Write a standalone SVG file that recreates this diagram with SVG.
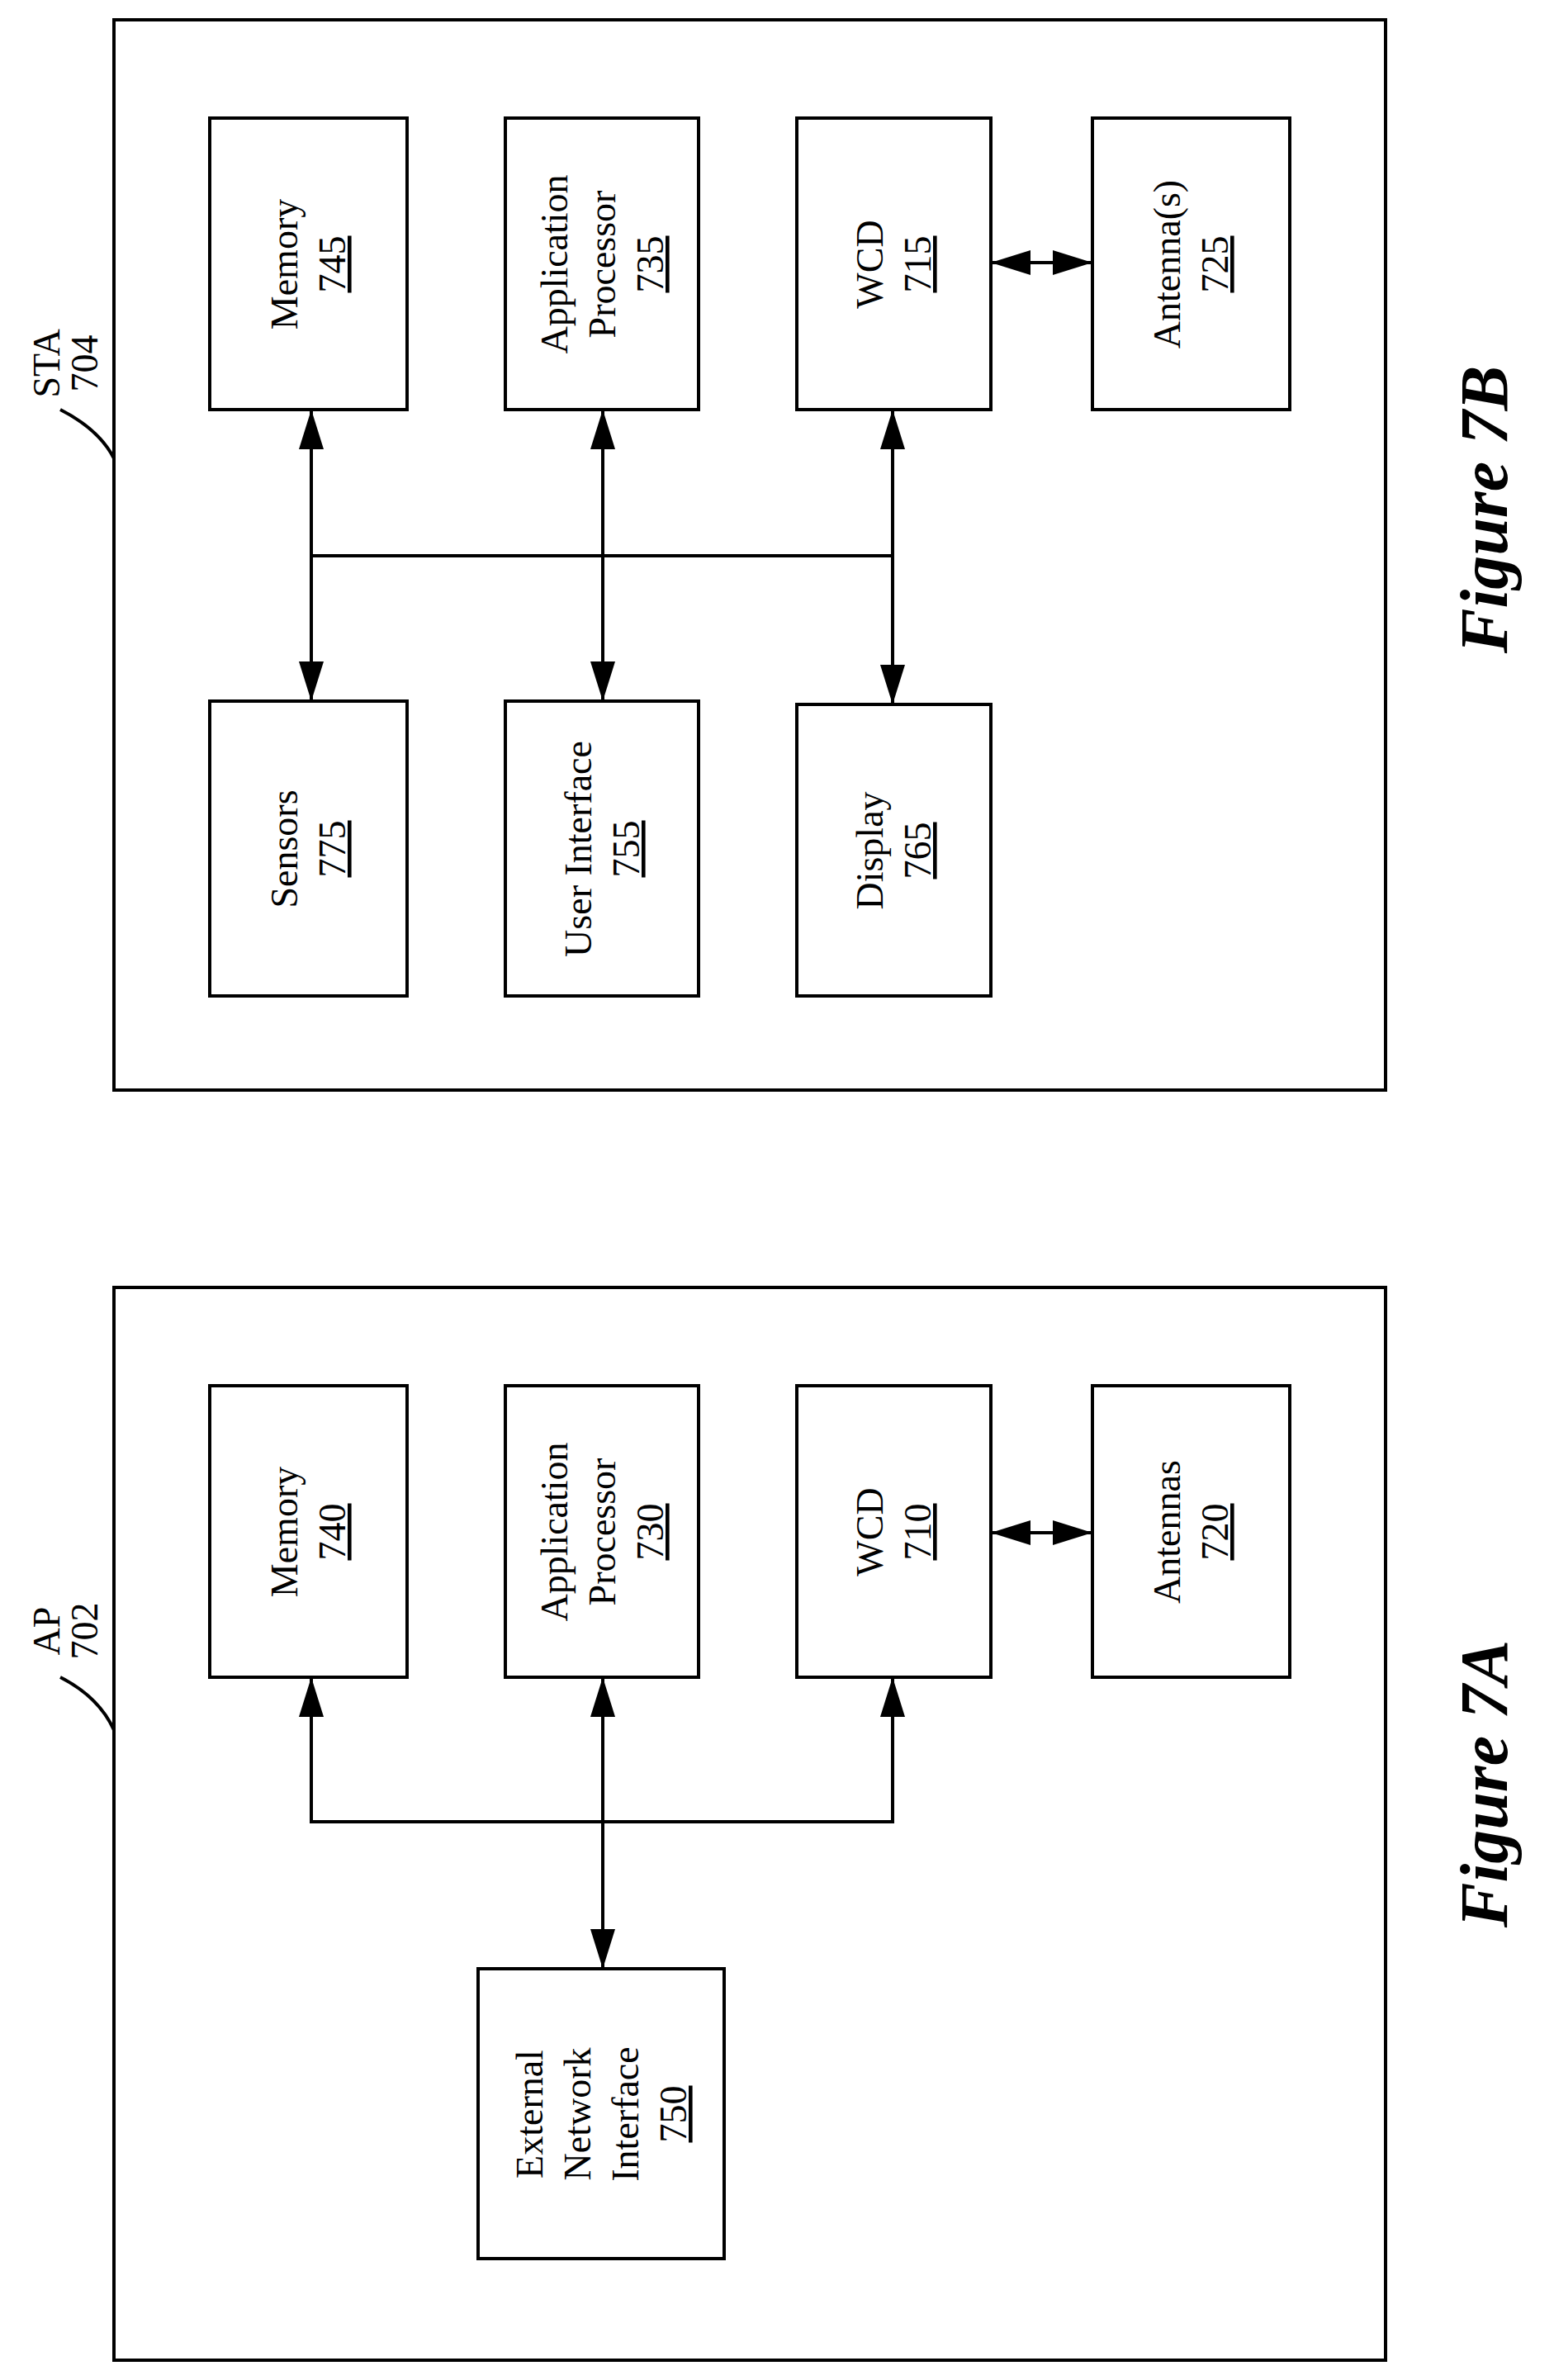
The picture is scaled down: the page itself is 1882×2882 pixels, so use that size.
<svg xmlns="http://www.w3.org/2000/svg" width="1882" height="2882" viewBox="0 0 1882 2882">
<style>
.b{fill:#fff;stroke:#000;stroke-width:4}
.o{fill:none;stroke:#000;stroke-width:4}
.t{font-family:"Liberation Serif",serif;font-size:46px;text-anchor:middle}
.u{text-decoration:underline}
.c{fill:none;stroke:#000;stroke-width:4}
.f{font-family:"Liberation Serif",serif;font-size:82px;font-weight:bold;font-style:italic;text-anchor:middle}
</style>
<defs>
<marker id="a" markerUnits="userSpaceOnUse" markerWidth="48" markerHeight="30" refX="46" refY="15" orient="auto-start-reverse"><path d="M0,0 L48,15 L0,30 Z" fill="#000"/></marker>
</defs>
<rect x="0" y="0" width="1882" height="2882" fill="#fff"/>
<g id="sta"><rect class="o" x="138" y="24" width="1540" height="1296"/>
<text class="t" transform="translate(85,440) rotate(-90)"><tspan x="0" y="-13">STA</tspan><tspan x="0" y="33">704</tspan></text>
<path class="c" d="M73,496 Q120,520 138,555" stroke-width="3"/></g>
<g id="n745"><rect class="b" x="254" y="143" width="239" height="353"/><text class="t" transform="translate(373,320) rotate(-90)"><tspan x="0" y="-13">Memory</tspan><tspan x="0" y="45" class="u">745</tspan></text></g>
<g id="n735"><rect class="b" x="612" y="143" width="234" height="353"/><text class="t" transform="translate(729,320) rotate(-90)"><tspan x="0" y="-42">Application</tspan><tspan x="0" y="16">Processor</tspan><tspan x="0" y="74" class="u">735</tspan></text></g>
<g id="n715"><rect class="b" x="965" y="143" width="235" height="353"/><text class="t" transform="translate(1082,320) rotate(-90)"><tspan x="0" y="-13">WCD</tspan><tspan x="0" y="45" class="u">715</tspan></text></g>
<g id="n725"><rect class="b" x="1323" y="143" width="239" height="353"/><text class="t" transform="translate(1442,320) rotate(-90)"><tspan x="0" y="-13">Antenna(s)</tspan><tspan x="0" y="45" class="u">725</tspan></text></g>
<g id="n775"><rect class="b" x="254" y="849" width="239" height="357"/><text class="t" transform="translate(373,1028) rotate(-90)"><tspan x="0" y="-13">Sensors</tspan><tspan x="0" y="45" class="u">775</tspan></text></g>
<g id="n755"><rect class="b" x="612" y="849" width="234" height="357"/><text class="t" transform="translate(729,1028) rotate(-90)"><tspan x="0" y="-13">User Interface</tspan><tspan x="0" y="45" class="u">755</tspan></text></g>
<g id="n765"><rect class="b" x="965" y="853" width="235" height="353"/><text class="t" transform="translate(1082,1030) rotate(-90)"><tspan x="0" y="-13">Display</tspan><tspan x="0" y="45" class="u">765</tspan></text></g>
<text class="f" transform="translate(1825,617) rotate(-90)">Figure 7B</text>

<g id="ap"><rect class="o" x="138" y="1559" width="1540" height="1299"/>
<text class="t" transform="translate(85,1975) rotate(-90)"><tspan x="0" y="-13">AP</tspan><tspan x="0" y="33">702</tspan></text>
<path class="c" d="M73,2031 Q120,2055 138,2095" stroke-width="3"/></g>
<g id="n740"><rect class="b" x="254" y="1678" width="239" height="353"/><text class="t" transform="translate(373,1855) rotate(-90)"><tspan x="0" y="-13">Memory</tspan><tspan x="0" y="45" class="u">740</tspan></text></g>
<g id="n730"><rect class="b" x="612" y="1678" width="234" height="353"/><text class="t" transform="translate(729,1855) rotate(-90)"><tspan x="0" y="-42">Application</tspan><tspan x="0" y="16">Processor</tspan><tspan x="0" y="74" class="u">730</tspan></text></g>
<g id="n710"><rect class="b" x="965" y="1678" width="235" height="353"/><text class="t" transform="translate(1082,1855) rotate(-90)"><tspan x="0" y="-13">WCD</tspan><tspan x="0" y="45" class="u">710</tspan></text></g>
<g id="n720"><rect class="b" x="1323" y="1678" width="239" height="353"/><text class="t" transform="translate(1442,1855) rotate(-90)"><tspan x="0" y="-13">Antennas</tspan><tspan x="0" y="45" class="u">720</tspan></text></g>
<g id="n750"><rect class="b" x="579" y="2384" width="298" height="351"/><text class="t" transform="translate(728,2560) rotate(-90)"><tspan x="0" y="-71">External</tspan><tspan x="0" y="-13">Network</tspan><tspan x="0" y="45">Interface</tspan><tspan x="0" y="103" class="u">750</tspan></text></g>
<text class="f" transform="translate(1825,2160) rotate(-90)">Figure 7A</text>

<g id="connectors">
<path class="c" d="M377,673 H1081"/>
<path class="c" d="M377,498 V847" marker-start="url(#a)" marker-end="url(#a)"/>
<path class="c" d="M730,498 V847" marker-start="url(#a)" marker-end="url(#a)"/>
<path class="c" d="M1081,498 V851" marker-start="url(#a)" marker-end="url(#a)"/>
<path class="c" d="M1202,318 H1321" stroke-width="8" marker-start="url(#a)" marker-end="url(#a)"/>
<path class="c" d="M377,2033 V2206 H1081 V2033" marker-start="url(#a)" marker-end="url(#a)"/>
<path class="c" d="M730,2033 V2382" marker-start="url(#a)" marker-end="url(#a)"/>
<path class="c" d="M1202,1856 H1321" stroke-width="8" marker-start="url(#a)" marker-end="url(#a)"/>
</g>
</svg>
